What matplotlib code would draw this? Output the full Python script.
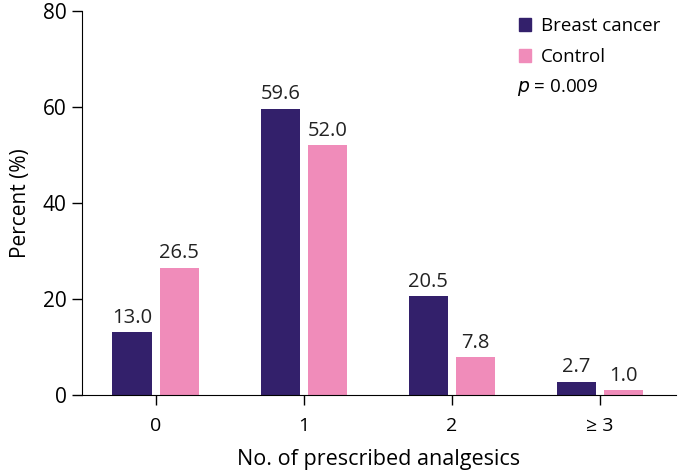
import numpy as np
import matplotlib
matplotlib.use('Agg')
import matplotlib.pyplot as plt
from matplotlib.patches import Patch

categorias = ['0', '1', '2', '≥ 3']
cancer = [13.0, 59.6, 20.5, 2.7]
control = [26.5, 52.0, 7.8, 1.0]
grupos = ['Breast cancer', 'Control']
p_valor = '0.009'

col_cancer = '#33206b'
col_control = '#f08cba'

plt.rcParams['font.family'] = ['Open Sans', 'DejaVu Sans']

fig = plt.figure(figsize=(6.78, 4.71), dpi=100)
ax = fig.add_axes([0.1205, 0.162, 0.876, 0.815])

x = np.arange(len(categorias))
ancho = 0.267
desp = 0.159

b1 = ax.bar(x - desp, cancer, ancho, color=col_cancer)
b2 = ax.bar(x + desp, control, ancho, color=col_control)

for barras, vals in ((b1, cancer), (b2, control)):
    for b, v in zip(barras, vals):
        ax.text(b.get_x() + b.get_width() / 2, v + 0.9, f'{v:.1f}',
                ha='center', va='bottom', fontsize=14.5, color='#222222')

ax.set_xlim(-0.5, 3.51)
ax.set_ylim(0, 80)
ax.set_yticks([0, 20, 40, 60, 80])
ax.set_xticks(x)
ax.set_xticklabels(categorias)
ax.tick_params(axis='y', labelsize=15, length=7, width=1, pad=4)
ax.tick_params(axis='x', labelsize=14, length=7, width=1, pad=9)
ax.spines['top'].set_visible(False)
ax.spines['right'].set_visible(False)
ax.set_ylabel('Percent (%)', fontsize=15, labelpad=8)
ax.set_xlabel('No. of prescribed analgesics', fontsize=15.5, labelpad=10)

handles = [Patch(color=col_cancer), Patch(color=col_control)]
fig.legend(handles, grupos, loc='upper left', bbox_to_anchor=(0.74, 1.0),
           frameon=False, fontsize=13.5, handlelength=0.65, handleheight=0.65,
           handletextpad=0.55, labelspacing=0.7)
fig.text(0.762, 0.815, '$p$ = ' + p_valor, fontsize=13.5, va='center')

plt.savefig('out.png', dpi=100)
plt.close()
